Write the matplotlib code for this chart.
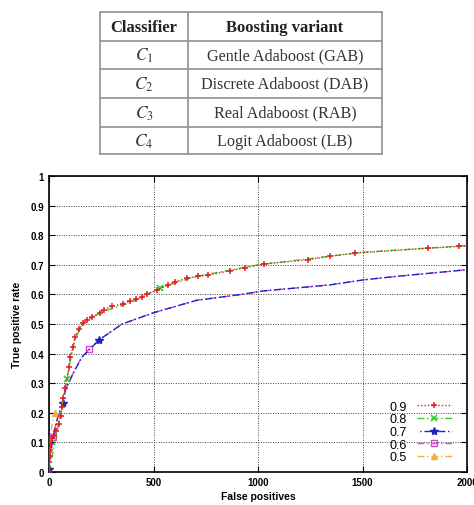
import numpy as np
import matplotlib
matplotlib.use("Agg")
import matplotlib.pyplot as plt
from matplotlib.lines import Line2D

# table content
table_header = ["Classifier", "Boosting variant"]
classifiers = [r"$C_1$", r"$C_2$", r"$C_3$", r"$C_4$"]
variants = ["Gentle Adaboost (GAB)", "Discrete Adaboost (DAB)",
            "Real Adaboost (RAB)", "Logit Adaboost (LB)"]

# ROC curves per threshold (false positives, true positive rate)
fp_09 = [0, 1, 2, 3, 5, 8, 12, 25, 35, 46, 56, 62, 68, 77, 97, 100, 116, 124, 144,
         161, 180, 204, 244, 262, 300, 356, 388, 418, 445, 469, 517, 571, 603, 659,
         714, 762, 866, 938, 1030, 1241, 1344, 1464, 1815, 1963, 2100]
tpr_09 = [0, 0.015, 0.035, 0.055, 0.075, 0.095, 0.115, 0.12, 0.14, 0.162, 0.188,
          0.22, 0.25, 0.283, 0.354, 0.39, 0.421, 0.455, 0.483, 0.503, 0.513, 0.523,
          0.536, 0.548, 0.56, 0.568, 0.578, 0.585, 0.59, 0.6, 0.615, 0.632, 0.643,
          0.654, 0.661, 0.665, 0.68, 0.69, 0.703, 0.717, 0.729, 0.74, 0.756, 0.762, 0.77]

fp_08 = [0, 40, 85, 120, 160, 250, 400, 531, 700, 1000, 1500, 2000, 2100]
tpr_08 = [0, 0.14, 0.314, 0.44, 0.503, 0.54, 0.575, 0.622, 0.66, 0.70, 0.742, 0.765, 0.77]

fp_07 = [0, 5, 20, 40, 65, 80, 120, 160, 241, 350, 500, 706, 900, 1030, 1344, 1504, 1664, 2100]
tpr_07 = [0.01, 0.05, 0.12, 0.18, 0.232, 0.28, 0.34, 0.39, 0.447, 0.5, 0.538, 0.58,
          0.598, 0.612, 0.632, 0.649, 0.661, 0.69]

fp_06 = [0, 5, 18, 40, 65, 80, 120, 150, 191, 241, 350, 500, 706, 900, 1030, 1344, 1504, 1664, 2100]
tpr_06 = [0, 0.05, 0.119, 0.18, 0.232, 0.28, 0.34, 0.38, 0.415, 0.447, 0.5, 0.538, 0.58,
          0.598, 0.612, 0.632, 0.649, 0.661, 0.69]

fp_05 = [0, 3, 8, 15, 29]
tpr_05 = [0, 0.06, 0.12, 0.16, 0.2]

fig = plt.figure(figsize=(4.74, 5.06), dpi=100)

# ---- table drawn in figure coordinates ----
W, H = 474.0, 506.0
def fx(px): return px / W
def fy(py): return 1 - py / H

plt.rcParams['mathtext.fontset'] = 'stix'
tcol = '#999999'
row_lines = [13, 42, 70, 99, 128, 155]
tl, tm, tr = 100, 188, 382
for yy in row_lines:
    fig.add_artist(Line2D([fx(tl), fx(tr)], [fy(yy), fy(yy)], color=tcol, lw=1.3))
for xx in (tl, tm, tr):
    fig.add_artist(Line2D([fx(xx), fx(xx)], [fy(row_lines[0]), fy(row_lines[-1])],
                          color=tcol, lw=1.3))

c1, c2 = (tl + tm) / 2, (tm + tr) / 2
fig.text(fx(c1), fy(28), table_header[0], ha='center', va='center',
         family='Liberation Serif', weight='bold', fontsize=12, color='#222222')
fig.text(fx(c2), fy(28), table_header[1], ha='center', va='center',
         family='Liberation Serif', weight='bold', fontsize=12, color='#222222')
for i in range(4):
    yc = (row_lines[i + 1] + row_lines[i + 2]) / 2
    fig.text(fx(c1), fy(yc), classifiers[i], ha='center', va='center',
             fontsize=12.5, color='#333333')
    fig.text(fx(c2), fy(yc), variants[i], ha='center', va='center',
             family='Liberation Serif', fontsize=11.6, color='#333333')

# ---- ROC plot ----
ax = fig.add_axes([49 / W, 1 - 473 / H, (467 - 49) / W, (473 - 177) / H])

ax.plot(fp_06, tpr_06, color='#e040e0', lw=1.0, ls=(0, (5, 2, 1, 2)),
        marker='s', mfc='none', ms=5, markevery=[2, 8], label='0.6', zorder=3)
ax.plot(fp_07, tpr_07, color='#2020c0', lw=1.0, ls=(5, (5, 2, 1, 2)),
        marker='*', ms=6, markevery=[0, 4, 8], label='0.7', zorder=3)
ax.plot(fp_05, tpr_05, color='#f0b040', lw=1.0, ls=(0, (5, 2, 1, 2)),
        marker='^', ms=5, markevery=[4], label='0.5', zorder=3)
ax.plot(fp_08, tpr_08, color='#30d030', lw=1.0, ls=(0, (5, 2, 1, 2)),
        marker='x', ms=5, mew=1.2, markevery=[2, 7], label='0.8', zorder=4)
ax.plot(fp_09, tpr_09, color='#e02020', lw=1.0, ls=(0, (1, 1.5)),
        marker='+', ms=5, mew=1.1, label='0.9', zorder=5)

ax.set_xlim(0, 2000)
ax.set_ylim(0, 1)
ax.set_xticks([0, 500, 1000, 1500, 2000])
ax.set_yticks(np.arange(0, 1.01, 0.1))
ax.set_yticklabels(['0', '0.1', '0.2', '0.3', '0.4', '0.5', '0.6', '0.7', '0.8', '0.9', '1'])
ax.grid(True, color='#444444', lw=0.7, ls=(0, (1, 1.5)))
ax.tick_params(direction='in', top=True, right=True, length=4, width=0.8,
               labelsize=7)
for lab in ax.get_xticklabels() + ax.get_yticklabels():
    lab.set_fontweight('bold')
    lab.set_family('Liberation Sans')
for sp in ax.spines.values():
    sp.set_linewidth(1.2)

ax.set_xlabel('False positives', fontsize=7.5, weight='bold', family='Liberation Sans',
              labelpad=3)
ax.set_ylabel('True positive rate', fontsize=7.5, weight='bold', family='Liberation Sans',
              labelpad=6)

handles, labels = ax.get_legend_handles_labels()
order = [labels.index(l) for l in ['0.9', '0.8', '0.7', '0.6', '0.5']]
leg = ax.legend([handles[i] for i in order], [labels[i] for i in order],
                loc='lower right', frameon=False, markerfirst=False, numpoints=1,
                prop={'family': 'Liberation Sans', 'size': 9},
                handlelength=2.8, labelspacing=0.05, handletextpad=0.8,
                borderaxespad=0.3, bbox_to_anchor=(0.985, 0.0))

fig.savefig('out.png', dpi=100)
